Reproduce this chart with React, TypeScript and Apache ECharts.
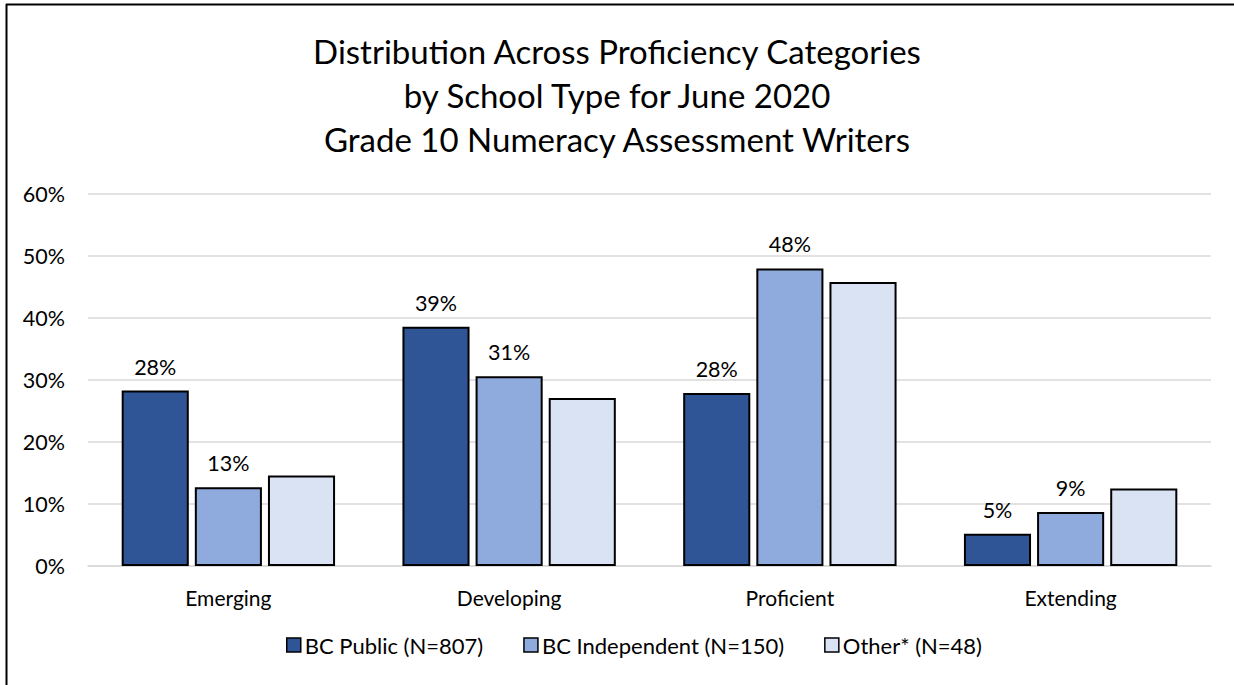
import React, { useEffect, useRef } from "react";
import * as echarts from "echarts";

const categories = ["Emerging", "Developing", "Proficient", "Extending"];
const bcPublic = [28.3, 38.6, 27.9, 5.2];
const bcIndependent = [12.7, 30.6, 48.0, 8.7];
const other = [14.6, 27.1, 45.8, 12.5];
const seriesNames = ["BC Public (N=807)", "BC Independent (N=150)", "Other* (N=48)"];
const colors = ["#2F5597", "#8FAADC", "#DAE3F3"];
const titleLines = [
  "Distribution Across Proficiency Categories",
  "by School Type for June 2020",
  "Grade 10 Numeracy Assessment Writers",
];

const FONT = "Lato, 'Open Sans', sans-serif";

export default function App() {
  const ref = useRef<HTMLDivElement>(null);
  useEffect(() => {
    document.body.style.margin = "0";
    const chart = echarts.init(ref.current!, null, { renderer: "svg" });
    const label = (show: boolean) => ({
      show,
      position: "top" as const,
      distance: 13,
      color: "#000",
      fontSize: 21.5,
      fontFamily: FONT,
      formatter: (p: any) => `${Math.round(p.value)}%`,
    });
    const datasets = [bcPublic, bcIndependent, other];
    chart.setOption({
      animation: false,
      backgroundColor: "#fff",
      title: {
        text: titleLines.join("\n"),
        left: "center",
        top: 24,
        textStyle: {
          fontFamily: FONT,
          fontSize: 33,
          fontWeight: "normal",
          color: "#000",
          lineHeight: 44,
        },
      },
      grid: { left: 88, right: 23, top: 194, bottom: 119, containLabel: false },
      xAxis: {
        type: "category",
        data: categories,
        axisLine: { show: true, lineStyle: { color: "#d9d9d9", width: 1.5 } },
        axisTick: { show: false },
        axisLabel: { color: "#000", fontSize: 21, fontFamily: FONT, margin: 21 },
      },
      yAxis: {
        type: "value",
        min: 0,
        max: 60,
        interval: 10,
        axisLine: { show: false },
        axisTick: { show: false },
        axisLabel: { color: "#000", fontSize: 21.5, fontFamily: FONT, margin: 23, formatter: "{value}%" },
        splitLine: { lineStyle: { color: "#d9d9d9", width: 1.5 } },
      },
      legend: {
        bottom: 24,
        left: 281,
        itemWidth: 14,
        itemHeight: 14,
        itemGap: 40,
        textStyle: { color: "#000", fontSize: 22, fontFamily: FONT, padding: [0, 0, 0, -1] },
        data: seriesNames.map((n, i) => ({
          name: n,
          icon: "rect",
          itemStyle: { color: colors[i], borderColor: "#000", borderWidth: 1.5 },
        })),
      },
      series: datasets.map((d, i) => ({
        name: seriesNames[i],
        type: "bar",
        data: d,
        barGap: "9%",
        barCategoryGap: "24%",
        itemStyle: { color: colors[i], borderColor: "#000", borderWidth: 2 },
        label: label(i < 2),
      })),
      graphic: [
        { type: "line", shape: { x1: 6, y1: 4.5, x2: 1234, y2: 4.5 }, style: { stroke: "#000", lineWidth: 2 } },
        { type: "line", shape: { x1: 6.5, y1: 4, x2: 6.5, y2: 685 }, style: { stroke: "#000", lineWidth: 2 } },
      ],
    });
    return () => chart.dispose();
  }, []);
  return <div ref={ref} style={{ width: 1234, height: 685 }} />;
}
